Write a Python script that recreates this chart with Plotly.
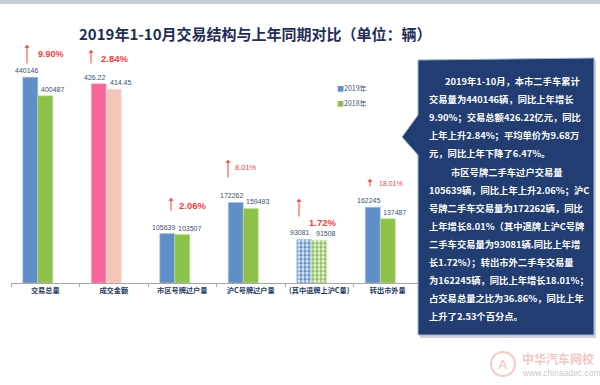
import plotly.graph_objects as go

# ---------------- data ----------------
categories = ["交易总量", "成交金额", "市区号牌过户量", "沪C号牌过户量", "(其中退牌上沪C量)", "转出市外量"]
vals_2019 = [440146, 426.22, 105639, 172262, 93081, 162245]
vals_2018 = [400487, 414.45, 103507, 159493, 91508, 137487]
growth = ["9.90%", "2.84%", "2.06%", "8.01%", "1.72%", "18.01%"]
series_names = ["2019年", "2018年"]
amount_index = 1      # 成交金额 (亿元) drawn on its own axis
patterned_index = 4   # 退牌上沪C bars are drawn with a dot pattern

box_lines = [
    "2019年1-10月，本市二手车累计",
    "交易量为440146辆，同比上年增长",
    "9.90%；交易总额426.22亿元，同比",
    "上年上升2.84%；平均单价为9.68万",
    "元，同比上年下降了6.47%。",
    "市区号牌二手车过户交易量",
    "105639辆，同比上年上升2.06%；沪C",
    "号牌二手车交易量为172262辆，同比",
    "上年增长8.01%（其中退牌上沪C号牌",
    "二手车交易量为93081辆.同比上年增",
    "长1.72%）；转出市外二手车交易量",
    "为162245辆，同比上年增长18.01%；",
    "占交易总量之比为36.86%，同比上年",
    "上升了2.53个百分点。",
]
box_indent = {0: 443, 5: 449}

# ---------------- styles ----------------
W, H = 600, 385
BLUE, GREEN = "#5f8fc6", "#8cc24a"
PINK, PEACH = "#f7669a", "#f5c6b8"
NAVY = "#1f2d5a"
RED = "#ff3b3b"
LBL = "#3d4f6e"
CJK = "Noto Sans CJK SC"

def px(x):
    return x / W

def py(y):
    return 1 - y / H

bar_w = 0.219
off_blue, off_green = -0.328, -0.109

counts_idx = [i for i in range(len(categories)) if i != amount_index]

def pattern_for(color):
    shapes = ["." if i == patterned_index else "" for i in counts_idx]
    return dict(shape=shapes, fgcolor=color, bgcolor="#eef3fa", size=4, solidity=0.55,
                fillmode="replace")

fig = go.Figure()
fig.add_trace(go.Bar(
    x=[categories[i] for i in counts_idx], y=[vals_2019[i] for i in counts_idx],
    width=bar_w, offset=off_blue, marker=dict(color=BLUE, line=dict(color="#a9c3e3", width=0.6),
                                              pattern=pattern_for(BLUE)),
    name=series_names[0], showlegend=False))
fig.add_trace(go.Bar(
    x=[categories[i] for i in counts_idx], y=[vals_2018[i] for i in counts_idx],
    width=bar_w, offset=off_green, marker=dict(color=GREEN, line=dict(color="#c4e39e", width=0.6),
                                               pattern=pattern_for(GREEN)),
    name=series_names[1], showlegend=False))
fig.add_trace(go.Bar(
    x=[categories[amount_index]], y=[vals_2019[amount_index]], yaxis="y2",
    width=bar_w, offset=off_blue, marker=dict(color=PINK, line=dict(color="#fbb0cb", width=0.6)),
    showlegend=False))
fig.add_trace(go.Bar(
    x=[categories[amount_index]], y=[vals_2018[amount_index]], yaxis="y2",
    width=bar_w, offset=off_green, marker=dict(color=PEACH, line=dict(color="#fbe0d8", width=0.6)),
    showlegend=False))

annotations = []

# value labels
for i, c in enumerate(categories):
    yref = "y2" if i == amount_index else "y"
    for v, xs in ((vals_2019[i], -19), (vals_2018[i], 7)):
        annotations.append(dict(x=c, y=v, xref="x", yref=yref, text=f"{v:g}" if i == amount_index else str(v),
                                showarrow=False, xshift=xs, yshift=1, yanchor="bottom",
                                font=dict(size=7, color=LBL, family="Liberation Sans")))

# growth arrows + percentages (positions are pixel styling)
arrow_pos = [(27, 45, 65), (91, 50, 65), (171, 198, 212), (228, 160, 179), (299, 199, 218), (370, 179, 188)]
pct_pos = [(36, 54, 9, True), (99, 58, 9.5, True), (177, 206, 9.5, True),
           (233, 168, 7.5, False), (307, 222, 9.5, True), (377, 184, 7, False)]
for g, (ax_, yt, yb), (lx, ly, fs, bold) in zip(growth, arrow_pos, pct_pos):
    annotations.append(dict(x=px(ax_), y=py(yt), xref="paper", yref="paper", text="",
                            showarrow=True, ax=0, ay=yb - yt, axref="pixel", ayref="pixel",
                            arrowhead=1, arrowsize=0.9, arrowwidth=1, arrowcolor=RED, standoff=0))
    annotations.append(dict(x=px(lx), y=py(ly), xref="paper", yref="paper",
                            text=f"<b>{g}</b>" if bold else g, showarrow=False,
                            xanchor="left", yanchor="middle",
                            font=dict(size=fs, color=RED, family="Liberation Sans")))

# title
annotations.append(dict(x=px(255), y=py(33), xref="paper", yref="paper",
                        text="<b>2019年1-10月交易结构与上年同期对比（单位：辆）</b>",
                        showarrow=False, xanchor="center", yanchor="middle",
                        font=dict(size=15, color=NAVY, family=CJK)))

# legend
for k, (nm, col) in enumerate(zip(series_names, (BLUE, GREEN))):
    annotations.append(dict(x=px(335), y=py(88 + 15 * k), xref="paper", yref="paper",
                            text=f"<span style='color:{col}'>■</span>{nm}", showarrow=False,
                            xanchor="left", yanchor="middle",
                            font=dict(size=7, color=LBL, family=CJK)))

# text box lines
for k, line in enumerate(box_lines):
    annotations.append(dict(x=px(box_indent.get(k, 427)), y=py(81 + 18.1 * k), xref="paper", yref="paper",
                            text=f"<b>{line}</b>", showarrow=False, xanchor="left", yanchor="middle",
                            font=dict(size=9.3, color="white", family=CJK)))

# watermark
annotations.append(dict(x=px(520), y=py(358), xref="paper", yref="paper", text="<b>中华汽车网校</b>",
                        showarrow=False, xanchor="left", yanchor="middle",
                        font=dict(size=12, color="rgba(240,120,120,0.45)", family=CJK)))
annotations.append(dict(x=px(520), y=py(373), xref="paper", yref="paper", text="www.chinaadec.com",
                        showarrow=False, xanchor="left", yanchor="middle",
                        font=dict(size=8.5, color="rgba(150,150,150,0.55)", family="Liberation Sans")))
annotations.append(dict(x=px(503), y=py(364), xref="paper", yref="paper", text="<b>A</b>",
                        showarrow=False, xanchor="center", yanchor="middle",
                        font=dict(size=13, color="rgba(240,120,120,0.4)", family="Liberation Sans")))

# shapes
box_path = (f"M {px(418)},{py(60)} L {px(594)},{py(58)} L {px(594)},{py(335)} L {px(418)},{py(335)} "
            f"L {px(418)},{py(155)} L {px(402)},{py(137)} L {px(418)},{py(115)} Z")
shadow_path = (f"M {px(420)},{py(62)} L {px(596)},{py(60)} L {px(596)},{py(338)} L {px(420)},{py(338)} "
               f"L {px(420)},{py(157)} L {px(404)},{py(139)} L {px(420)},{py(117)} Z")
shapes = [
    dict(type="rect", xref="paper", yref="paper", x0=0, x1=1, y0=py(4), y1=1,
         fillcolor="#c3ccd7", line=dict(width=0), layer="below"),
    dict(type="path", xref="paper", yref="paper", path=shadow_path,
         fillcolor="rgba(120,130,150,0.35)", line=dict(width=0)),
    dict(type="path", xref="paper", yref="paper", path=box_path,
         fillcolor="#213d71", line=dict(color="#9fb6d3", width=1)),
    dict(type="circle", xref="paper", yref="paper", x0=px(491), x1=px(515), y0=py(376), y1=py(352),
         line=dict(color="rgba(240,120,120,0.4)", width=2)),
]

fig.update_layout(
    width=W, height=H, margin=dict(l=0, r=0, t=0, b=0),
    paper_bgcolor="white", plot_bgcolor="rgba(0,0,0,0)",
    barmode="overlay", showlegend=False,
    xaxis=dict(domain=[px(11), px(422)], type="category", categoryorder="array",
               categoryarray=categories, range=[-0.5, 5.5], automargin=False, tickangle=0,
               showline=True, linecolor="#a6a6a6", linewidth=1,
               ticks="outside", ticklen=3, tickcolor="#a6a6a6", tickson="boundaries",
               showgrid=False, zeroline=False,
               tickfont=dict(size=7.2, color="#1f3864", family=CJK, weight="bold")),
    yaxis=dict(domain=[py(283), py(49.25)], range=[0, 500000], visible=False, showgrid=False,
               automargin=False),
    yaxis2=dict(overlaying="y", range=[0, 500], visible=False, showgrid=False, automargin=False),
    annotations=annotations, shapes=shapes,
)

fig.write_html("out.html", config={"displayModeBar": False},
               post_script="document.body.style.margin='0';document.body.style.overflow='hidden';")
